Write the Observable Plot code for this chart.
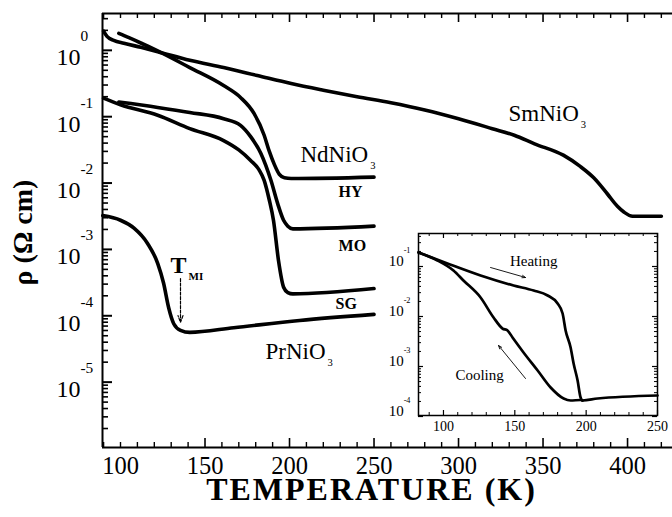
<!DOCTYPE html>
<html><head><meta charset="utf-8">
<script src="https://cdn.jsdelivr.net/npm/d3@7"></script>
<script src="https://cdn.jsdelivr.net/npm/@observablehq/plot@0.6"></script>
<style>
body{margin:0;background:#fff;}
#wrap{position:relative;width:672px;height:517px;overflow:hidden;background:#fff;}
#inset{position:absolute;left:380px;top:220px;}
svg{font-family:"Liberation Serif","Times New Roman",Times,serif;}
</style></head><body>
<div id="wrap"><div id="main"></div><div id="inset"></div></div>
<script>
// ---------- main panel data: temperature (K) and resistivity (Ohm cm) ----------
const smT   = [90, 92, 96, 102, 112, 122, 141, 161, 181, 201, 220, 240, 260, 280, 300, 320, 333, 345, 362, 372, 380, 388, 394, 398, 403, 420];
const smRho = [1.95, 1.62, 1.41, 1.28, 1.11, 0.955, 0.708, 0.55, 0.417, 0.316, 0.251, 0.2, 0.162, 0.126, 0.093, 0.066, 0.0525, 0.039, 0.0263, 0.0178, 0.012, 0.0069, 0.00447, 0.00363, 0.00316, 0.00316];

const hyT   = [99, 105, 112, 122, 141, 161, 171, 179, 185, 188, 191, 194, 197, 201, 250];
const hyRho = [1.8, 1.55, 1.29, 0.98, 0.55, 0.295, 0.195, 0.112, 0.0525, 0.0302, 0.0191, 0.0135, 0.012, 0.0117, 0.0123];

const moT   = [99, 122, 141, 161, 171, 177, 183, 189, 193, 196.5, 199, 202, 250];
const moRho = [0.166, 0.138, 0.116, 0.0933, 0.0741, 0.0501, 0.0282, 0.011, 0.0049, 0.00275, 0.00224, 0.00204, 0.00224];

const sgT   = [90, 100, 122, 141, 161, 170, 177, 182, 185, 188, 190.5, 193.5, 196.5, 199, 202, 250];
const sgRho = [0.19, 0.151, 0.105, 0.0661, 0.0437, 0.0316, 0.0219, 0.0158, 0.011, 0.0056, 0.00275, 0.000676, 0.000269, 0.000224, 0.000214, 0.000257];

const prT   = [89.5, 100, 108, 116, 122, 125.5, 128.5, 131.5, 135.5, 141, 167, 206, 250];
const prRho = [0.00324, 0.00275, 0.00209, 0.00123, 0.000617, 0.000309, 0.000132, 0.0000759, 0.0000603, 0.0000562, 0.0000661, 0.0000851, 0.000105];

// ---------- inset data (heating / cooling) ----------
const heatT   = [82.5, 102.8, 126, 149.1, 163.2, 173, 180, 183.5, 185.6, 189.1, 191.2, 194, 196.1, 197.5, 208, 250];
const heatRho = [0.191, 0.115, 0.0661, 0.0417, 0.0331, 0.0263, 0.0182, 0.0115, 0.00525, 0.0024, 0.00115, 0.000525, 0.00024, 0.000209, 0.000229, 0.000263];
const coolT   = [82.5, 95.8, 107, 114, 126, 135.1, 141.4, 144.9, 148.4, 156.1, 166, 175.1, 184.2, 189.1, 196.1, 197.5];
const coolRho = [0.191, 0.132, 0.0832, 0.0525, 0.024, 0.00955, 0.00575, 0.00525, 0.0038, 0.00191, 0.000832, 0.00038, 0.000229, 0.000209, 0.000214, 0.000209];

// ---------- axes ----------
const xDomain = [89.35, 426.6];
const yDomain = [Math.pow(10, -5.985), Math.pow(10, 0.555)];
const xTickLabels = [100, 150, 200, 250, 300, 350, 400];
const xMajorTicks = [150, 200, 250, 300, 350, 400];
const yTickValues = [1, 0.1, 0.01, 0.001, 0.0001, 0.00001];
const yTickLabels = ["10^{0}", "10^{-1}", "10^{-2}", "10^{-3}", "10^{-4}", "10^{-5}"];
const xTitle = "TEMPERATURE (K)";
const yTitle = "ρ (Ω cm)";

const inXDomain = [82.5, 250];
const inYDomain = [Math.pow(10, -3.98), Math.pow(10, -0.34)];
const inXTickLabels = [100, 150, 200, 250];
const inYTickValues = [0.1, 0.01, 0.001, 0.0001];
const inYTickLabels = ["10^{-1}", "10^{-2}", "10^{-3}", "10^{-4}"];

// ---------- annotations ----------
const curveLabels = [
  {T: 329.6, rho: Math.pow(10, -1.071), text: "SmNiO_{3}"},
  {T: 206.5, rho: Math.pow(10, -1.689), text: "NdNiO_{3}"},
  {T: 185.8, rho: Math.pow(10, -4.646), text: "PrNiO_{3}"}
];
const sampleLabels = [
  {T: 229, rho: Math.pow(10, -2.217), text: "HY"},
  {T: 229, rho: Math.pow(10, -3.017), text: "MO"},
  {T: 227.2, rho: Math.pow(10, -3.891), text: "SG"}
];
const tmiLabel = [{T: 129.6, rho: Math.pow(10, -3.35), text: "T_{MI}"}];
const tmiArrow = [{T: 135.5, rho1: Math.pow(10, -3.44), rho2: Math.pow(10, -4.10)}];
const insetLabels = [
  {T: 163.2, rho: Math.pow(10, -0.98), text: "Heating"},
  {T: 125.3, rho: Math.pow(10, -3.26), text: "Cooling"}
];
const insetArrows = [
  {T1: 133, r1: Math.pow(10, -1.02), T2: 157.5, r2: Math.pow(10, -1.22)},
  {T1: 157.5, r1: Math.pow(10, -3.24), T2: 138.6, r2: Math.pow(10, -2.58)}
];

const toRows = (T, R) => T.map((t, i) => ({T: t, rho: R[i]}));

function logMinor(domain) {
  const out = [];
  for (let e = -7; e <= 1; e++) for (let k = 2; k <= 9; k++) {
    const v = k * Math.pow(10, e);
    if (v > domain[0] && v < domain[1]) out.push(v);
  }
  return out;
}

function richify(svg, o) {
  svg.querySelectorAll("text").forEach(el => {
    const t = el.textContent;
    if (o.spaced && t === o.spaced) el.setAttribute("letter-spacing", o.spacing);
    const m = /^(.*?)([_^])\{(.*)\}$/.exec(t);
    if (!m) return;
    const holder = el.closest("[font-size]");
    const fs = holder ? parseFloat(holder.getAttribute("font-size")) : 16;
    el.textContent = "";
    const ns = "http://www.w3.org/2000/svg";
    const a = document.createElementNS(ns, "tspan");
    a.textContent = m[1];
    el.appendChild(a);
    const b = document.createElementNS(ns, "tspan");
    b.textContent = m[3];
    if (m[2] === "^") {
      b.setAttribute("font-size", fs * o.supScale);
      b.setAttribute("dy", -fs * o.supRise);
      b.setAttribute("dx", o.supDx || 0);
    } else {
      b.setAttribute("font-size", fs * o.subScale);
      b.setAttribute("dy", fs * o.subDrop);
      b.setAttribute("dx", o.subDx || 0);
    }
    el.appendChild(b);
  });
}

// ---------- main chart ----------
const mW = 672, mH = 517, mL = 102, mR = 0, mT = 13, mB = 70;
const pH = mH - mT - mB, pW = mW - mL - mR;
const xMinor = d3.range(90, 430, 10).filter(v => !xMajorTicks.includes(v));
const yMinor = logMinor(yDomain);

const main = Plot.plot({
  width: mW, height: mH,
  marginLeft: mL, marginRight: mR, marginTop: mT, marginBottom: mB,
  x: {domain: xDomain, axis: null},
  y: {type: "log", domain: yDomain, axis: null},
  style: {background: "transparent", fontFamily: "'Liberation Serif','Times New Roman',serif", color: "black"},
  marks: [
    // frame (right side cropped)
    Plot.ruleX([xDomain[0]], {stroke: "black", strokeWidth: 2}),
    Plot.ruleY([yDomain[0]], {stroke: "black", strokeWidth: 2}),
    Plot.ruleY([yDomain[1]], {stroke: "black", strokeWidth: 2}),
    // inward ticks bottom/top
    Plot.tickX(xMinor, {x: d => d, insetTop: pH - 5, stroke: "black", strokeWidth: 1.4}),
    Plot.tickX(xMajorTicks, {x: d => d, insetTop: pH - 9, stroke: "black", strokeWidth: 1.6}),
    Plot.tickX(xMinor, {x: d => d, insetBottom: pH - 5, stroke: "black", strokeWidth: 1.4}),
    Plot.tickX(xMajorTicks, {x: d => d, insetBottom: pH - 9, stroke: "black", strokeWidth: 1.6}),
    // inward ticks left
    Plot.tickY(yMinor, {y: d => d, insetRight: pW - 6, stroke: "black", strokeWidth: 1.6}),
    Plot.tickY(yTickValues, {y: d => d, insetRight: pW - 10, stroke: "black", strokeWidth: 2}),
    // tick labels
    Plot.text(xTickLabels, {x: d => d, frameAnchor: "bottom", dy: 26, text: d => String(d), fontSize: 24.5, lineAnchor: "bottom", textAnchor: "middle"}),
    Plot.text(yTickValues, {y: d => d, frameAnchor: "left", dx: -46, dy: 15, text: (d, i) => yTickLabels[i], fontSize: 24, lineAnchor: "bottom", textAnchor: "start"}),
    // axis titles
    Plot.text([xTitle], {frameAnchor: "bottom", dx: -16, dy: 52, fontSize: 32, fontWeight: "bold", lineAnchor: "bottom", textAnchor: "middle"}),
    Plot.text([yTitle], {frameAnchor: "left", dx: -79, dy: 2, rotate: -90, fontSize: 28, fontWeight: "bold", textAnchor: "middle", lineAnchor: "middle"}),
    // curves
    Plot.line(toRows(smT, smRho), {x: "T", y: "rho", stroke: "black", strokeWidth: 3.6, curve: "monotone-x"}),
    Plot.line(toRows(hyT, hyRho), {x: "T", y: "rho", stroke: "black", strokeWidth: 3.6, curve: "monotone-x"}),
    Plot.line(toRows(moT, moRho), {x: "T", y: "rho", stroke: "black", strokeWidth: 3.6, curve: "monotone-x"}),
    Plot.line(toRows(sgT, sgRho), {x: "T", y: "rho", stroke: "black", strokeWidth: 3.6, curve: "monotone-x"}),
    Plot.line(toRows(prT, prRho), {x: "T", y: "rho", stroke: "black", strokeWidth: 3.6, curve: "monotone-x"}),
    // labels
    Plot.text(curveLabels, {x: "T", y: "rho", text: "text", fontSize: 23, textAnchor: "start", lineAnchor: "bottom"}),
    Plot.text(sampleLabels, {x: "T", y: "rho", text: "text", fontSize: 16, fontWeight: "bold", textAnchor: "start", lineAnchor: "bottom"}),
    Plot.text(tmiLabel, {x: "T", y: "rho", text: "text", fontSize: 24, fontWeight: "bold", textAnchor: "start", lineAnchor: "bottom"}),
    Plot.arrow(tmiArrow, {x1: "T", y1: "rho1", x2: "T", y2: "rho2", stroke: "black", strokeWidth: 1.2, headLength: 9, headAngle: 40, strokeDasharray: "3,1.5"})
  ]
});
richify(main, {supScale: 0.64, supRise: 1.0, subScale: 0.46, subDrop: 0.3, subDx: 2, spaced: xTitle, spacing: 2});
document.getElementById("main").appendChild(main);

// ---------- inset ----------
const iW = 292, iH = 222, iL = 38, iR = 15, iT = 13, iB = 27;
const ipH = iH - iT - iB, ipW = iW - iL - iR;
const inXMinor = d3.range(90, 250, 10).filter(v => !inXTickLabels.includes(v));
const inYMinor = logMinor(inYDomain);

const inset = Plot.plot({
  width: iW, height: iH,
  marginLeft: iL, marginRight: iR, marginTop: iT, marginBottom: iB,
  x: {domain: inXDomain, axis: null},
  y: {type: "log", domain: inYDomain, axis: null},
  style: {background: "transparent", fontFamily: "'Liberation Serif','Times New Roman',serif", color: "black"},
  marks: [
    Plot.frame({stroke: "black", strokeWidth: 1.5}),
    Plot.tickX(inXMinor, {x: d => d, insetTop: ipH - 3, stroke: "black", strokeWidth: 1}),
    Plot.tickX(inXTickLabels, {x: d => d, insetTop: ipH - 5, stroke: "black", strokeWidth: 1.2}),
    Plot.tickX(inXMinor, {x: d => d, insetBottom: ipH - 3, stroke: "black", strokeWidth: 1}),
    Plot.tickX(inXTickLabels, {x: d => d, insetBottom: ipH - 5, stroke: "black", strokeWidth: 1.2}),
    Plot.tickY(inYMinor, {y: d => d, insetRight: ipW - 3, stroke: "black", strokeWidth: 1}),
    Plot.tickY(inYTickValues, {y: d => d, insetRight: ipW - 5, stroke: "black", strokeWidth: 1.2}),
    Plot.tickY(inYMinor, {y: d => d, insetLeft: ipW - 3, stroke: "black", strokeWidth: 1}),
    Plot.tickY(inYTickValues, {y: d => d, insetLeft: ipW - 5, stroke: "black", strokeWidth: 1.2}),
    Plot.text(inXTickLabels, {x: d => d, frameAnchor: "bottom", dy: 15, text: d => String(d), fontSize: 14, lineAnchor: "bottom", textAnchor: "middle"}),
    Plot.text(inYTickValues, {y: d => d, frameAnchor: "left", dx: -8, dy: -1, text: (d, i) => inYTickLabels[i], fontSize: 15, lineAnchor: "bottom", textAnchor: "end"}),
    Plot.line(toRows(heatT, heatRho), {x: "T", y: "rho", stroke: "black", strokeWidth: 2.7, curve: "monotone-x"}),
    Plot.line(toRows(coolT, coolRho), {x: "T", y: "rho", stroke: "black", strokeWidth: 2.7, curve: "monotone-x"}),
    Plot.text(insetLabels, {x: "T", y: "rho", text: "text", fontSize: 15, textAnchor: "middle", lineAnchor: "bottom"}),
    Plot.arrow(insetArrows, {x1: "T1", y1: "r1", x2: "T2", y2: "r2", stroke: "black", strokeWidth: 0.9, headLength: 6, headAngle: 40})
  ]
});
richify(inset, {supScale: 0.55, supRise: 0.85});
document.getElementById("inset").appendChild(inset);
</script>
</body></html>
